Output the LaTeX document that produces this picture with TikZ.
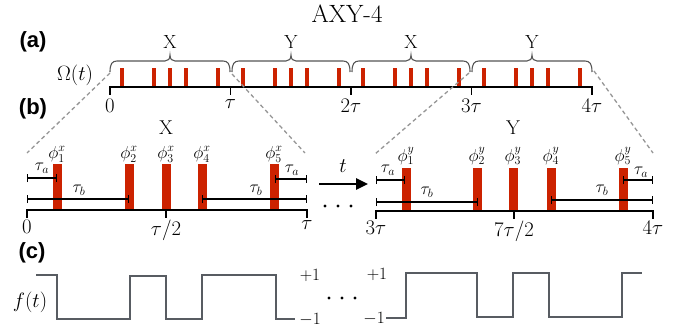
\documentclass[tikz,border=0pt]{standalone}
\usepackage{fontspec}
\newfontfamily\lblfont{Liberation Sans}
\usetikzlibrary{arrows.meta}
\definecolor{pulsered}{RGB}{204,34,0}
\definecolor{bracegray}{RGB}{85,85,85}
\definecolor{dashgray}{RGB}{150,150,150}
\definecolor{wavegray}{RGB}{88,92,98}
\newcommand\myfs[1]{\fontsize{#1}{#1}\selectfont}
\begin{document}
\begin{tikzpicture}[x=1pt,y=-1pt,
  axisline/.style={line width=2.4pt, black},
  tickline/.style={line width=1.8pt, black},
  pulsebar/.style={fill=pulsered, draw=none},
  bracestyle/.style={draw=bracegray, line width=1.1pt},
  zoomline/.style={draw=dashgray, dash pattern=on 4pt off 3pt, line width=1.3pt},
  spanbar/.style={line width=1.4pt, {Bar[width=8pt]}-{Bar[width=8pt]}},
  wave/.style={draw=wavegray, line width=2.2pt},
  lbl/.style={font={\lblfont\bfseries\myfs{22}}},
  ticklbl/.style={font={\myfs{21}}, anchor=north, inner sep=0pt},
  seglbl/.style={font={\myfs{20}}},
  philbl/.style={font={\myfs{18}}, anchor=base, inner sep=0pt},
  taulbl/.style={font={\myfs{17}}, inner sep=0pt},
  pmlbl/.style={font={\myfs{18}}, inner sep=0pt}
]
\useasboundingbox (0,0) rectangle (693,335);

% title and panel labels
\node[font={\myfs{25}}] (title) at (347,14) {AXY-4};
\node[lbl] (la) at (33,42) {(a)};
\node[lbl] (lb) at (33,109) {(b)};
\node[lbl] (lc) at (32,253) {(c)};

% ---------- (a) ----------
\node[font={\myfs{22}}] (omega) at (75,75) {$\Omega(t)$};
\foreach \s in {110,230.5,351,471.5}{
  \foreach \o in {12,44,60,76,108}{
    \fill[pulsebar] (\s+\o-2,68) rectangle (\s+\o+2,87);
  }
}
\draw[axisline] (110,87) -- (592,87);
\foreach \t/\lab [count=\i] in {110/0,230.5/\tau,351/2\tau,471.5/3\tau,592/4\tau}{
  \draw[tickline] (\t,86) -- (\t,95);
  \node[ticklbl] (ta\i) at (\t,99) {$\lab$};
}
\foreach \a/\b/\lab [count=\i] in {110/230/X,232/350/Y,352/470/X,472/592/Y}{
  \pgfmathsetmacro\m{(\a+\b)/2}
  \draw[bracestyle] (\a,72) .. controls (\a,64) and (\a+2,61) .. (\a+7,61)
     -- (\m-5,61) .. controls (\m-2,61) and (\m,59) .. (\m,55)
     .. controls (\m,59) and (\m+2,61) .. (\m+5,61)
     -- (\b-7,61) .. controls (\b-2,61) and (\b,64) .. (\b,72);
  \node[font={\myfs{19}}] (bl\i) at (\m,42) {\lab};
}

% zoom lines
\coordinate (z1a) at (110,73); \coordinate (z1b) at (27,153);
\coordinate (z2a) at (232,74); \coordinate (z2b) at (305,153);
\coordinate (z3a) at (469,73); \coordinate (z3b) at (375,154);
\coordinate (z4a) at (594,71); \coordinate (z4b) at (653,153);
\draw[zoomline] (z1a) -- (z1b);
\draw[zoomline] (z2a) -- (z2b);
\draw[zoomline] (z3a) -- (z3b);
\draw[zoomline] (z4a) -- (z4b);

% ---------- (b) left ----------
\node[seglbl] (bx) at (166,128) {X};
\foreach \x in {57,129,166,202,274}{
  \fill[pulsebar] (\x-4.5,164) rectangle (\x+4.5,210);
}
\draw[axisline] (27,210) -- (307,210);
\foreach \t/\lab [count=\i] in {27/{0},166/{\tau/2},307/{\tau}}{
  \draw[tickline] (\t,209) -- (\t,218);
  \node[ticklbl] (tbl\i) at (\t,220) {$\lab$};
}
\foreach \x/\k in {57/1,129/2,166/3,202/4,274/5}{
  \node[philbl] (phx\k) at (\x,158) {$\phi_{\k}^{x}$};
}
\draw[spanbar] (27,178) -- (57,178);
\draw[spanbar] (275,179) -- (307,179);
\draw[spanbar] (27,199) -- (129,199);
\draw[spanbar] (202,199) -- (307,199);
\node[taulbl] (tal) at (42,168) {$\tau_a$};
\node[taulbl] (tar) at (292,170) {$\tau_a$};
\node[taulbl] (tbl) at (79,190) {$\tau_b$};
\node[taulbl] (tbr) at (256,190) {$\tau_b$};

% arrow t
\coordinate (arrS) at (319,184);
\coordinate (arrE) at (368,184);
\draw[line width=2.5pt, -{Triangle[length=12pt,width=11pt]}] (arrS) -- (arrE);
\node[font={\myfs{21}}] (tlab) at (343,166) {$t$};
\foreach \x in {325,338,351}{ \fill (\x,206) circle (1.7); }

% ---------- (b) right ----------
\node[seglbl] (by) at (513,128) {Y};
\foreach \x in {406,477,513,551,623}{
  \fill[pulsebar] (\x-4.5,168) rectangle (\x+4.5,211);
}
\draw[axisline] (376,211) -- (653,211);
\foreach \t/\lab [count=\i] in {376/{3\tau},514/{7\tau/2},653/{4\tau}}{
  \draw[tickline] (\t,210) -- (\t,219);
  \node[ticklbl] (tbr\i) at (\t,221) {$\lab$};
}
\foreach \x/\k in {406/1,477/2,513/3,551/4,623/5}{
  \node[philbl] (phy\k) at (\x,161) {$\phi_{\k}^{y}$};
}
\draw[spanbar] (376,180) -- (405,180);
\draw[spanbar] (623,180) -- (653,180);
\draw[spanbar] (376,202) -- (478,202);
\draw[spanbar] (551,200) -- (653,200);
\node[taulbl] (tal2) at (388,170) {$\tau_a$};
\node[taulbl] (tar2) at (641,172) {$\tau_a$};
\node[taulbl] (tbl2) at (427,192) {$\tau_b$};
\node[taulbl] (tbr2) at (602,190) {$\tau_b$};

% ---------- (c) ----------
\node[font={\myfs{21}}] (ft) at (30,302) {$f(t)$};
\draw[wave] (36,275) -- (57,275) -- (57,319) -- (130,319) -- (130,276) -- (166,276)
  -- (166,319) -- (202,319) -- (202,275) -- (276,275) -- (276,319) -- (295,319);
\draw[wave] (386,318) -- (406,318) -- (406,273) -- (477,273) -- (477,317) -- (513,317)
  -- (513,273) -- (549,273) -- (549,317) -- (622,317) -- (622,273) -- (642,273);
\node[pmlbl] (p1l) at (310,275) {$+1$};
\node[pmlbl] (m1l) at (310,320) {$-1$};
\node[pmlbl] (p1r) at (377,274) {$+1$};
\node[pmlbl] (m1r) at (374,319) {$-1$};
\foreach \x in {329,342,355}{ \fill (\x,298) circle (1.7); }
\end{tikzpicture}
\end{document}
